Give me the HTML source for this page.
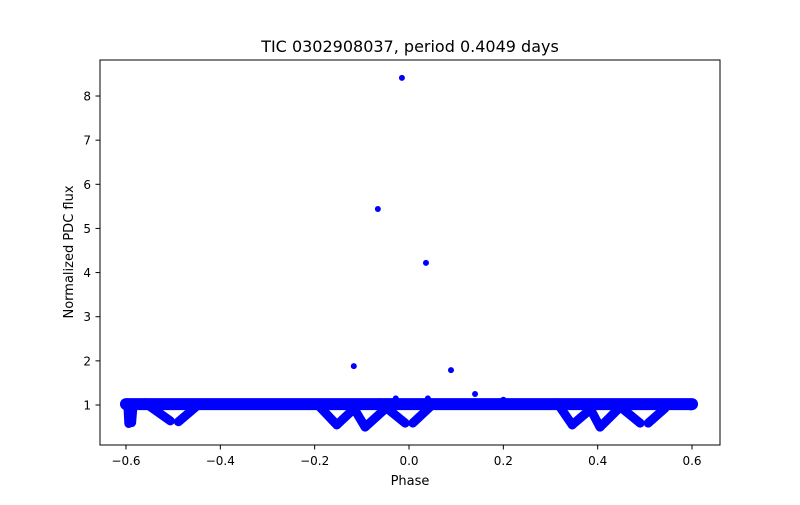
<!DOCTYPE html>
<html><head><meta charset="utf-8"><style>
body{margin:0;background:#fff;font-family:"Liberation Sans","DejaVu Sans",sans-serif}
svg text{font-family:"DejaVu Sans","Liberation Sans",sans-serif}
</style></head><body>
<svg id="chart" width="800" height="500" viewBox="0 0 800 500" xmlns="http://www.w3.org/2000/svg">
<rect width="800" height="500" fill="#fff"/>
<text x="410" y="52" text-anchor="middle" font-size="16">TIC 0302908037, period 0.4049 days</text>
<g id="plot"></g>
<rect x="100" y="60" width="620" height="385" fill="none" stroke="#000" stroke-width="1"/>
<g id="axes"></g>
<text x="410" y="485" text-anchor="middle" font-size="13">Phase</text>
<text transform="translate(73,252) rotate(-90)" text-anchor="middle" font-size="13">Normalized PDC flux</text>
</svg>
<script>
const xTicks=[-0.6,-0.4,-0.2,0.0,0.2,0.4,0.6];
const xTickLabels=["−0.6","−0.4","−0.2","0.0","0.2","0.4","0.6"];
const yTicks=[1,2,3,4,5,6,7,8];
const bandPhase=[-0.6,0.6];
const bandFlux=[1.02,1.02];
const dipStartPhase=[-0.596,-0.585,-0.56,-0.489,-0.193,-0.153,-0.121,-0.093,-0.061,0.008,0.314,0.346,0.38,0.405,0.443,0.507,0.598];
const dipStartFlux=[1.0,1.0,1.05,0.62,1.0,0.55,1.0,0.5,1.05,0.59,1.05,0.55,1.0,0.5,1.0,0.59,1.0];
const dipEndPhase=[-0.594,-0.588,-0.506,-0.447,-0.153,-0.112,-0.093,-0.036,-0.008,0.045,0.346,0.388,0.405,0.452,0.49,0.543,0.598];
const dipEndFlux=[0.58,0.6,0.64,1.0,0.55,0.96,0.5,1.05,0.59,0.96,0.55,0.93,0.5,1.0,0.59,0.93,0.98];
const outPhase=[-0.015,-0.066,0.036,-0.117,0.089,0.14,-0.028,0.04,0.2];
const outFlux=[8.41,5.44,4.22,1.88,1.79,1.25,1.15,1.15,1.12];
const X=p=>409+p*471.7;
const Y=f=>405-(f-1)*44.14;
const NS="http://www.w3.org/2000/svg";
const plot=document.getElementById('plot'),axes=document.getElementById('axes');
function mk(t,a,parent){const e=document.createElementNS(NS,t);for(const k in a)e.setAttribute(k,a[k]);parent.appendChild(e);return e;}
const blue="#0000ff";
let band=mk('line',{x1:X(bandPhase[0]),y1:Y(bandFlux[0]),x2:X(bandPhase[1]),y2:Y(bandFlux[1]),stroke:blue,'stroke-width':12,'stroke-linecap':'round'},plot);


for(let i=0;i<dipStartPhase.length;i++){
 const l=mk('line',{x1:X(dipStartPhase[i]),y1:Y(dipStartFlux[i]),x2:X(dipEndPhase[i]),y2:Y(dipEndFlux[i]),stroke:blue,'stroke-width':9,'stroke-linecap':'round'},plot);
 
 
}
for(let i=0;i<outPhase.length;i++){
 const c=mk('circle',{cx:X(outPhase[i]),cy:Y(outFlux[i]),r:3,fill:blue},plot);
 
 
}
xTicks.forEach((t,i)=>{
 const tk=mk('line',{x1:X(t),y1:445,x2:X(t),y2:449.5,stroke:'#000'},axes);
 
 
 const tx=mk('text',{x:X(t),y:465,'text-anchor':'middle','font-size':12},axes);
 tx.textContent=xTickLabels[i];
 
 
});
yTicks.forEach(t=>{
 const tk=mk('line',{x1:95.5,y1:Y(t),x2:100,y2:Y(t),stroke:'#000'},axes);
 
 
 const tx=mk('text',{x:91,y:Y(t)+4.5,'text-anchor':'end','font-size':12},axes);
 tx.textContent=String(t);
 
 
});
</script>
</body></html>
